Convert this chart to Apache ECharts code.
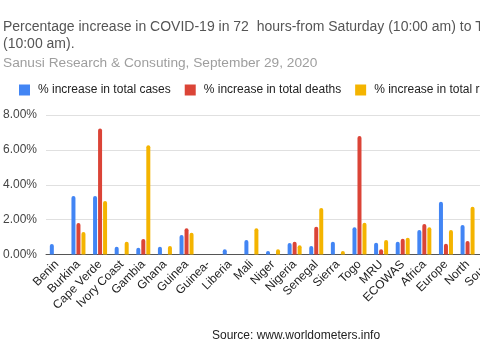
<!DOCTYPE html>
<html>
<head>
<meta charset="utf-8">
<script src="https://cdn.jsdelivr.net/npm/echarts@6/dist/echarts.min.js"></script>
<style>
html,body{margin:0;padding:0;width:480px;height:360px;overflow:hidden;background:#fff;}
#c{width:560px;height:360px;}
</style>
</head>
<body>
<div id="c"></div>
<script>
var categories = ['Benin','Burkina','Cape Verde','Ivory Coast','Gambia','Ghana','Guinea','Guinea-','Liberia','Mali','Niger','Nigeria','Senegal','Sierra','Togo','MRU','ECOWAS','Africa','Europe','North','South'];
var casesPct     = [0.60, 3.35, 3.35, 0.45, 0.39, 0.45, 1.12, 0, 0.30, 0.83, 0.20, 0.66, 0.49, 0.73, 1.56, 0.68, 0.73, 1.40, 3.03, 1.69, null];
var deathsPct    = [0, 1.80, 7.23, 0, 0.89, 0, 1.50, 0, 0, 0, 0, 0.73, 1.59, 0, 6.79, 0.30, 0.91, 1.75, 0.62, 0.77, null];
var recoveredPct = [0, 1.29, 3.07, 0.73, 6.27, 0.49, 1.25, 0, 0, 1.50, 0.30, 0.53, 2.66, 0.20, 1.82, 0.83, 0.96, 1.56, 1.40, 2.74, null];
var yTicks = [0, 2, 4, 6, 8];
var seriesNames = ['% increase in total cases','% increase in total deaths','% increase in total recovered'];
var colors = ['#4285F4','#DB4437','#F4B400'];

var chart = echarts.init(document.getElementById('c'));
function bar(name, data, color){
  return {
    name: name, type: 'bar', data: data,
    barWidth: 4, barGap: '25%',
    itemStyle: {color: color, borderRadius: [2,2,0,0]}
  };
}
chart.setOption({
  animation: false,
  color: colors,
  title: [{
    text: 'Percentage increase in COVID-19 in 72  hours-from Saturday (10:00 am) to Tuesday\n(10:00 am).',
    left: 3, top: 19, padding: 0,
    textStyle: {fontFamily: 'Liberation Sans, Arial', fontSize: 14, fontWeight: 'normal', color: '#555', lineHeight: 17}
  },{
    text: 'Sanusi Research & Consuting, September 29, 2020',
    left: 3, top: 56, padding: 0,
    textStyle: {fontFamily: 'Liberation Sans, Arial', fontSize: 13.7, fontWeight: 'normal', color: '#9e9e9e', lineHeight: 14}
  }],
  legend: {
    left: 19, top: 84, padding: 0,
    itemWidth: 11, itemHeight: 11, itemGap: 14,
    icon: 'rect',
    textStyle: {fontFamily: 'Liberation Sans, Arial', fontSize: 12, color: '#222', padding: [0,0,0,3]},
    data: seriesNames
  },
  graphic: [{
    type: 'text', left: 212, top: 330,
    style: {text: 'Source: www.worldometers.info', font: '12px Liberation Sans, Arial', fill: '#222'}
  }],
  grid: {left: 45, top: 115, width: 455, height: 139.5},
  xAxis: {
    type: 'category', data: categories,
    axisLine: {lineStyle: {color: '#555', width: 1}},
    axisTick: {show: false},
    axisLabel: {rotate: 45, interval: 0, margin: 8, padding: [8,0,0,0], fontFamily: 'Liberation Sans, Arial', fontSize: 12, color: '#222'}
  },
  yAxis: {
    type: 'value', min: 0, max: 8, interval: 2,
    axisLine: {show: false}, axisTick: {show: false},
    splitLine: {lineStyle: {color: '#e0e0e0'}},
    axisLabel: {margin: 9, fontFamily: 'Liberation Sans, Arial', fontSize: 12, color: '#444',
      formatter: function(v){ return yTicks.indexOf(v) >= 0 ? v.toFixed(2) + '%' : ''; }}
  },
  series: [
    bar(seriesNames[0], casesPct, colors[0]),
    bar(seriesNames[1], deathsPct, colors[1]),
    bar(seriesNames[2], recoveredPct, colors[2])
  ]
});
</script>
</body>
</html>
